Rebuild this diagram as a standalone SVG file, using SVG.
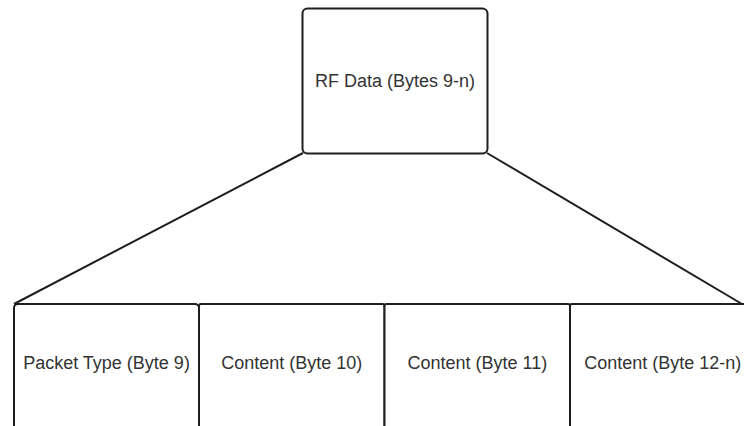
<svg xmlns="http://www.w3.org/2000/svg" width="744" height="426" viewBox="0 0 744 426">
<style>
.box{fill:#fff;stroke:#1e1e1e;stroke-width:2}
.lbl{font-family:"Liberation Sans",Arial,sans-serif;font-size:18px;fill:#333;text-anchor:middle}
.conn{stroke:#1e1e1e;stroke-width:2;fill:none}
</style>
<rect width="744" height="426" fill="#fff"/>
<g id="connectors">
<line class="conn" x1="303" y1="153" x2="14" y2="304"/>
<line class="conn" x1="487" y1="153" x2="742" y2="304"/>
</g>
<g id="rf-data">
<rect class="box" x="302.5" y="8.5" width="185" height="145" rx="5"/>
<text class="lbl" x="395" y="87">RF Data (Bytes 9-n)</text>
</g>
<g id="packet-type">
<rect class="box" x="14" y="304" width="185" height="130" rx="4"/>
<text class="lbl" x="106.5" y="369">Packet Type (Byte 9)</text>
</g>
<g id="content-10">
<rect class="box" x="199" y="304" width="185.5" height="130" rx="2"/>
<text class="lbl" x="291.8" y="369">Content (Byte 10)</text>
</g>
<g id="content-11">
<rect class="box" x="384.5" y="304" width="185.5" height="130" rx="2"/>
<text class="lbl" x="477.3" y="369">Content (Byte 11)</text>
</g>
<g id="content-12n">
<rect class="box" x="570" y="304" width="185.5" height="130" rx="2"/>
<text class="lbl" x="662.8" y="369">Content (Byte 12-n)</text>
</g>
</svg>
